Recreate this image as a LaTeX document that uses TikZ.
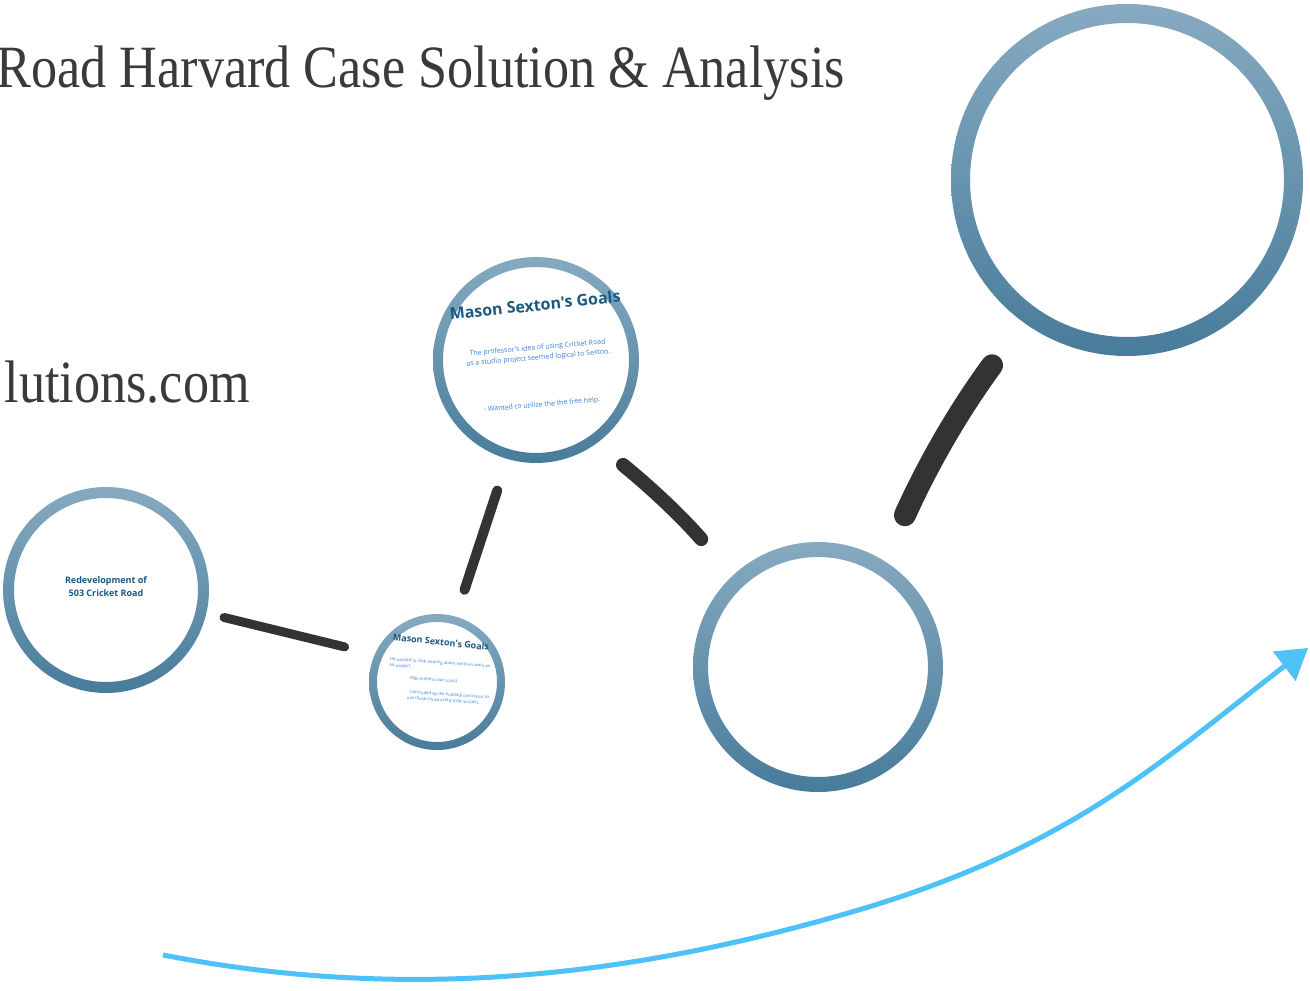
\documentclass[tikz,border=0pt]{standalone}
\usepackage{fontspec}
\usetikzlibrary{arrows.meta}
\newfontfamily\titlefont[FakeStretch=0.87]{Liberation Serif}
\newfontfamily\osans{Open Sans}
\definecolor{ringtop}{RGB}{134,170,192}
\definecolor{ringbot}{RGB}{72,124,155}
\definecolor{linkgray}{RGB}{51,51,51}
\definecolor{titlegray}{RGB}{58,58,58}
\definecolor{headblue}{RGB}{27,90,128}
\definecolor{bodyblue}{RGB}{60,130,215}
\definecolor{arrowblue}{RGB}{76,194,248}
\tikzset{
  ringnode/.style={circle, inner sep=0pt, draw=none},
  ringshade/.style={top color=ringtop, bottom color=ringbot, even odd rule},
  link/.style={draw=linkgray, line cap=round},
  headtext/.style={font=\osans\bfseries, text=headblue, inner sep=0pt, align=center},
  bodytext/.style={font=\osans, text=bodyblue, inner sep=0pt, align=center},
  bigtitle/.style={font=\titlefont\fontsize{60}{66}\selectfont, text=titlegray, inner sep=0pt}
}
\begin{document}
\begin{tikzpicture}[x=1pt,y=1pt]
\useasboundingbox (0,0) rectangle (1310,991);
\fill[white] (0,0) rectangle (1310,991);

% titles
\node[bigtitle, anchor=base east] (title) at (845,903) {Road Harvard Case Solution \& Analysis};
\node[bigtitle, anchor=base east] (site) at (250,588) {lutions.com};

% circle nodes
\node[ringnode, minimum size=352pt] (B) at (1127,811) {};
\node[ringnode, minimum size=250pt] (M) at (818,324) {};
\node[ringnode, minimum size=206pt] (T) at (536,631) {};
\node[ringnode, minimum size=206pt] (L) at (106,401) {};
\node[ringnode, minimum size=136pt] (S) at (437,309) {};

% rings
\shade[ringshade] (B.center) circle[radius=176] (B.center) circle[radius=157];
\shade[ringshade] (M.center) circle[radius=125] (M.center) circle[radius=110];
\shade[ringshade] (T.center) circle[radius=103] (T.center) circle[radius=93];
\shade[ringshade] (L.center) circle[radius=103] (L.center) circle[radius=92];
\shade[ringshade] (S.center) circle[radius=68] (S.center) circle[radius=60];

% connectors
\draw[link, line width=9pt, shorten <=18pt, shorten >=31pt] (L.-13.35) -- (S.156.7);
\draw[link, line width=10pt, shorten <=28pt, shorten >=33pt] (S.74) -- (T.254);
\draw[link, line width=14pt, shorten <=34pt, shorten >=48pt] (T.-54) to[bend left=5] (M.133);
\draw[link, line width=22pt, shorten <=50pt, shorten >=53pt] (M.58.44) to[bend left=6] (B.234.83);

% text of left circle
\node[headtext, font=\osans\bfseries\fontsize{9}{13}\selectfont] (Ltxt) at (106,404) {Redevelopment of\\503 Cricket Road};

% text of top circle
\node[headtext, font=\osans\bfseries\fontsize{16}{19}\selectfont, rotate=6] (Thead) at (535,686) {Mason Sexton's Goals};
\node[bodytext, font=\osans\fontsize{7}{10}\selectfont, rotate=5] (Tbody1) at (538,638) {The professor's idea of using Cricket Road\\as a studio project seemed logical to Sexton.};
\node[bodytext, font=\osans\fontsize{7}{10}\selectfont, rotate=5] (Tbody2) at (542,586) {- Wanted to utilize the the free help.};

% text of small circle
\node[headtext, font=\osans\bfseries\fontsize{9}{11}\selectfont, rotate=-6] (Shead) at (441,349) {Mason Sexton's Goals};
\node[bodytext, font=\osans\fontsize{4.3}{6}\selectfont, rotate=-4, align=left] (Sb1) at (440,325) {He wanted to stop hearing about Sexton's work on\\his project.};
\node[bodytext, font=\osans\fontsize{4.3}{6}\selectfont, rotate=-4] (Sb2) at (432,311) {- High interest loan (cost)};
\node[bodytext, font=\osans\fontsize{4.3}{6}\selectfont, rotate=-4, align=left] (Sb3) at (448,293) {- Concluded by the building contractor to\\use those constructed strip mizzens};

% blue arrow
\coordinate (as) at (163,36);
\coordinate (am) at (850,78.5);
\coordinate (ae) at (1308,343);
\draw[draw=arrowblue, line width=5pt, -{Triangle[length=30pt,width=36pt]}] (as) .. controls (423,-14.7) and (650,20.5) .. (am) .. controls (1070,142.3) and (1158,227.5) .. (ae);
\end{tikzpicture}
\end{document}
